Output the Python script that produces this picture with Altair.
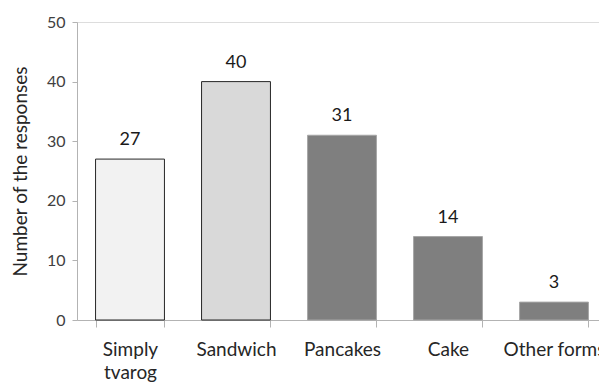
import altair as alt
import pandas as pd

# Ways of eating tvarog and how many respondents named each
categories = ["Simply tvarog", "Sandwich", "Pancakes", "Cake", "Other forms"]
responses = [27, 40, 31, 14, 3]

fills = ["#f2f2f2", "#d9d9d9", "#7f7f7f", "#7f7f7f", "#7f7f7f"]
strokes = ["#262626", "#262626", "#a6a6a6", "#a6a6a6", "#a6a6a6"]

df = pd.DataFrame({"category": categories, "responses": responses})

FONT = "Lato"

x = alt.X(
    "category:N",
    sort=categories,
    title=None,
    scale=alt.Scale(paddingInner=0.35, paddingOuter=0.175, range=[0, 530]),
    axis=alt.Axis(
        labelAngle=0,
        labelFont=FONT,
        labelFontSize=19,
        labelColor="#262626",
        labelPadding=13,
        labelLineHeight=23,
        labelExpr="datum.label == 'Simply tvarog' ? ['Simply', 'tvarog'] : datum.label",
        domainColor="#b3b3b3",
        tickColor="#b3b3b3",
        tickSize=7,
        tickBand="extent",
        labelOverlap=False,
        labelBound=False,
    ),
)

y = alt.Y(
    "responses:Q",
    title="Number of the responses",
    scale=alt.Scale(domain=[0, 50], nice=False),
    axis=alt.Axis(
        values=[0, 10, 20, 30, 40, 50],
        grid=False,
        labelFont=FONT,
        labelFontSize=16,
        labelColor="#404040",
        labelPadding=7,
        tickSize=5,
        tickColor="#b3b3b3",
        domainColor="#b3b3b3",
        titleFont=FONT,
        titleFontSize=19,
        titleFontWeight="normal",
        titleColor="#262626",
        titlePadding=16,
    ),
)

bars = alt.Chart(df).mark_bar(strokeWidth=1).encode(
    x=x,
    y=y,
    fill=alt.Fill("category:N", scale=alt.Scale(domain=categories, range=fills), legend=None),
    stroke=alt.Stroke("category:N", scale=alt.Scale(domain=categories, range=strokes), legend=None),
)

labels = alt.Chart(df).mark_text(
    font=FONT, fontSize=18, color="#1a1a1a", baseline="alphabetic", dy=-14
).encode(
    x=alt.X("category:N", sort=categories),
    y="responses:Q",
    text="responses:Q",
)

chart = (
    alt.layer(bars, labels)
    .properties(
        width=522,
        height=298,
        autosize=alt.AutoSizeParams(type="none"),
        padding={"left": 77, "top": 22, "right": 0, "bottom": 63},
    )
    .configure_view(stroke=None)
    .configure(background="white")
)

chart.save("out.html", embed_options={"renderer": "svg", "actions": False})
